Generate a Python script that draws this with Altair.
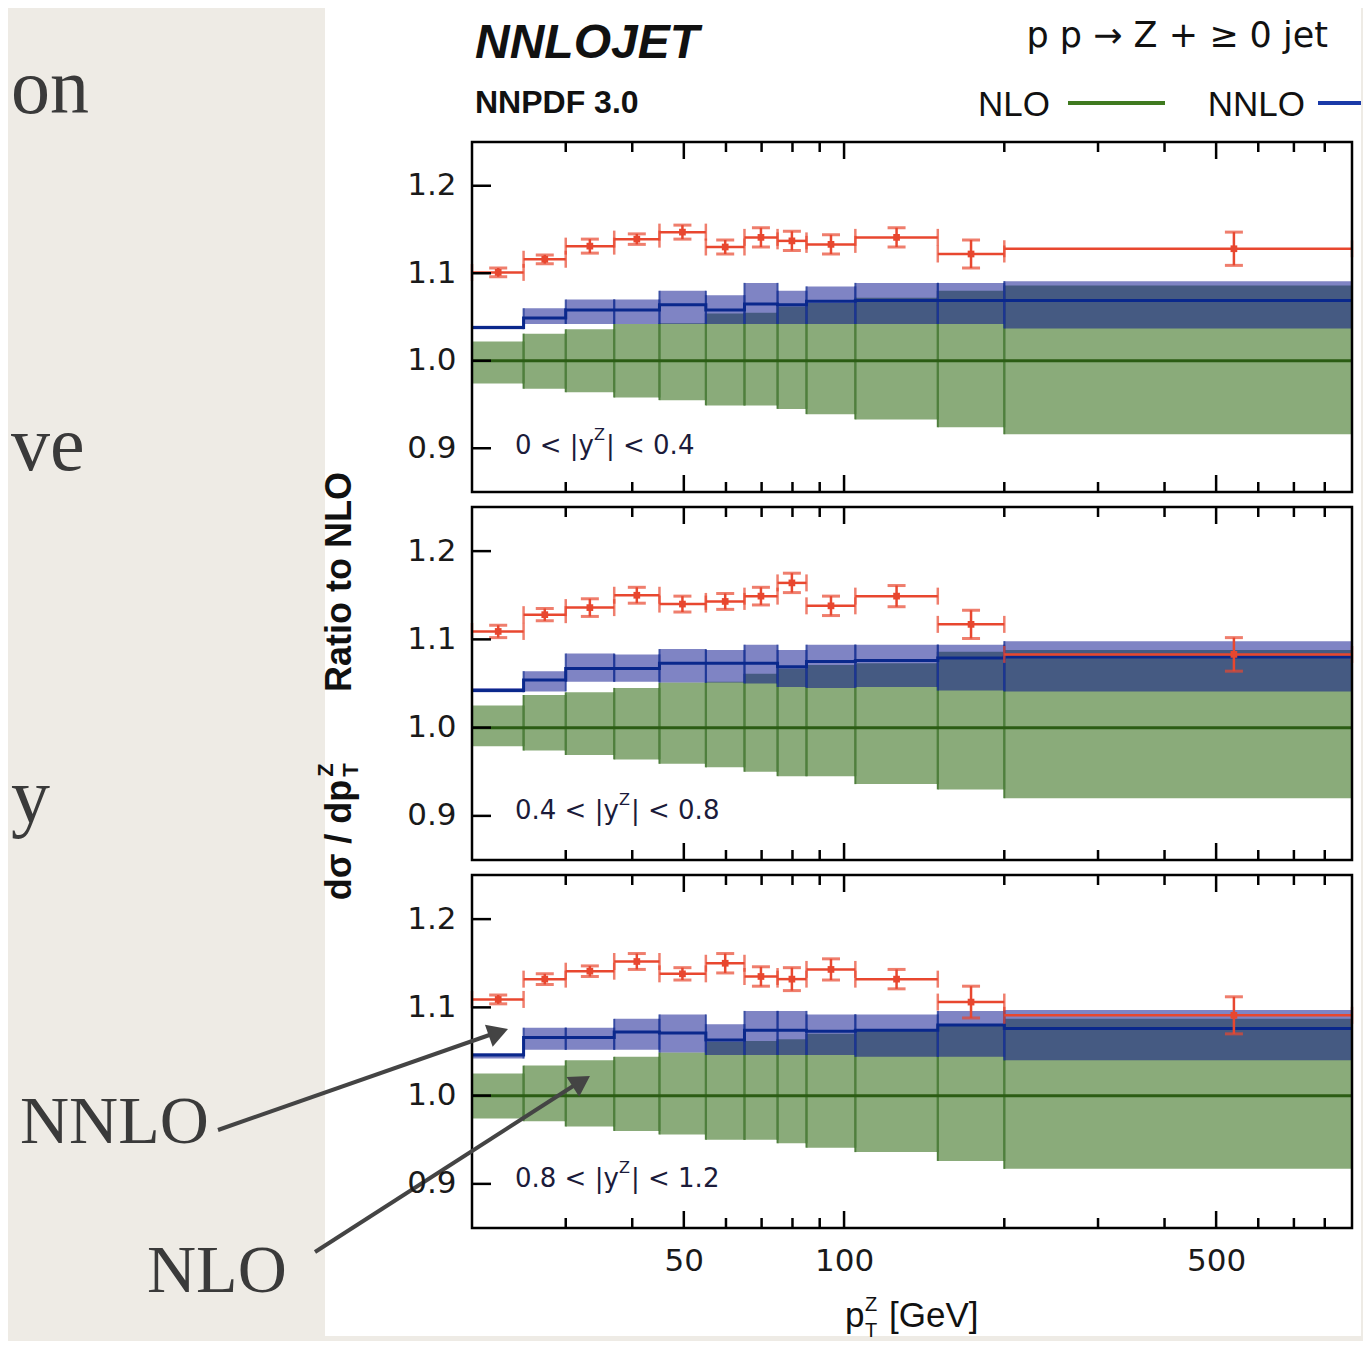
import altair as alt
import pandas as pd

# ---------------- data ----------------
edges = [20, 25, 30, 37, 45, 55, 65, 75, 85, 105, 150, 200, 900]
marker_pt = [22.4, 27.4, 33.3, 40.8, 49.7, 59.8, 69.8, 79.8, 94.5, 125.5, 173.2, 540]
x_major = [50, 100, 500]
x_minor = [30, 40, 60, 70, 80, 90, 200, 300, 400, 600, 700, 800]
y_ticks = [0.9, 1.0, 1.1, 1.2]
rap_lo = ["0", "0.4", "0.8"]
rap_hi = ["0.4", "0.8", "1.2"]

data_1 = [1.101, 1.116, 1.131, 1.139, 1.147, 1.130, 1.141, 1.137, 1.133, 1.141, 1.122, 1.128]
err_1 = [0.005, 0.005, 0.008, 0.006, 0.008, 0.008, 0.011, 0.011, 0.011, 0.011, 0.016, 0.019]
nnlo_1 = [1.038, 1.049, 1.058, 1.058, 1.064, 1.058, 1.065, 1.064, 1.068, 1.069, 1.069, 1.069]
nnlo_hi_1 = [1.040, 1.060, 1.070, 1.070, 1.080, 1.075, 1.089, 1.080, 1.085, 1.089, 1.089, 1.091]
nnlo_lo_1 = [1.036, 1.042, 1.042, 1.042, 1.042, 1.042, 1.042, 1.042, 1.042, 1.042, 1.042, 1.037]
nlo_hi_1 = [1.022, 1.031, 1.036, 1.042, 1.043, 1.054, 1.055, 1.062, 1.066, 1.072, 1.080, 1.086]
nlo_lo_1 = [0.974, 0.968, 0.964, 0.958, 0.955, 0.949, 0.949, 0.945, 0.939, 0.933, 0.924, 0.916]

data_2 = [1.109, 1.128, 1.136, 1.150, 1.140, 1.143, 1.149, 1.164, 1.138, 1.149, 1.117, 1.083]
err_2 = [0.007, 0.007, 0.010, 0.009, 0.009, 0.009, 0.010, 0.011, 0.011, 0.012, 0.016, 0.019]
nnlo_2 = [1.042, 1.054, 1.067, 1.067, 1.073, 1.073, 1.073, 1.069, 1.075, 1.076, 1.079, 1.080]
nnlo_hi_2 = [1.045, 1.064, 1.084, 1.083, 1.089, 1.088, 1.094, 1.088, 1.094, 1.094, 1.094, 1.098]
nnlo_lo_2 = [1.040, 1.041, 1.052, 1.052, 1.051, 1.051, 1.050, 1.046, 1.045, 1.046, 1.042, 1.041]
nlo_hi_2 = [1.025, 1.037, 1.040, 1.045, 1.051, 1.052, 1.061, 1.067, 1.071, 1.073, 1.086, 1.088]
nlo_lo_2 = [0.979, 0.974, 0.969, 0.964, 0.959, 0.955, 0.950, 0.945, 0.945, 0.936, 0.930, 0.920]

data_3 = [1.109, 1.132, 1.141, 1.152, 1.138, 1.150, 1.135, 1.132, 1.143, 1.132, 1.106, 1.091]
err_3 = [0.005, 0.006, 0.006, 0.009, 0.007, 0.011, 0.011, 0.013, 0.012, 0.011, 0.018, 0.021]
nnlo_3 = [1.046, 1.066, 1.066, 1.072, 1.071, 1.063, 1.074, 1.074, 1.073, 1.074, 1.080, 1.076]
nnlo_hi_3 = [1.048, 1.077, 1.077, 1.087, 1.092, 1.081, 1.096, 1.096, 1.092, 1.092, 1.096, 1.097]
nnlo_lo_3 = [1.042, 1.052, 1.052, 1.052, 1.049, 1.046, 1.046, 1.046, 1.046, 1.044, 1.044, 1.040]
nlo_hi_3 = [1.025, 1.034, 1.040, 1.044, 1.049, 1.061, 1.062, 1.064, 1.070, 1.074, 1.080, 1.087]
nlo_lo_3 = [0.974, 0.971, 0.965, 0.960, 0.956, 0.950, 0.950, 0.946, 0.941, 0.936, 0.926, 0.917]

DATA = [data_1, data_2, data_3]
ERR = [err_1, err_2, err_3]
NNLO = [nnlo_1, nnlo_2, nnlo_3]
NNLO_HI = [nnlo_hi_1, nnlo_hi_2, nnlo_hi_3]
NNLO_LO = [nnlo_lo_1, nnlo_lo_2, nnlo_lo_3]
NLO_HI = [nlo_hi_1, nlo_hi_2, nlo_hi_3]
NLO_LO = [nlo_lo_1, nlo_lo_2, nlo_lo_3]

# ---------------- style ----------------
BEIGE = "#eeebe5"
GREEN_BAND = "#8aab7a"
GREEN_EDGE = "#4f7f3d"
GREEN_LINE = "#2b5c14"
BLUE_BAND = "#00098a"
BLUE_EDGE = "#1c3596"
BLUE_LINE = "#0a288c"
RED = "#e8472f"
SLIDE_TXT = "#3a3a3a"
W = 880
HEIGHTS = [350, 353, 353]

XS = alt.Scale(type="log", domain=[20, 900], nice=False)
YS = alt.Scale(domain=[0.85, 1.25], nice=False, zero=False)

one = pd.DataFrame({"a": [0]})


def txt(text, x, y, size, color="#111111", font="Liberation Sans", align="left",
        baseline="alphabetic", weight="normal", style="normal", angle=0):
    kw = dict(text=text, align=align, baseline=baseline, fontSize=size, font=font,
              color=color, fontWeight=weight, fontStyle=style)
    if angle:
        kw["angle"] = angle
    return alt.Chart(one).mark_text(**kw).encode(x=alt.value(x), y=alt.value(y))


def make_panel(k, h, show_x):
    XA = None
    if show_x:
        XA = alt.Axis(values=x_major, format="d", ticks=False, domain=False, grid=False,
                      labelPadding=18, labelFontSize=31, labelFont="DejaVu Sans",
                      labelColor="#1a1a1a", title=None, zindex=1, labelOverlap=False,
                      labelFlush=False)
    YA = alt.Axis(values=y_ticks, format=".1f", ticks=False, domain=False, grid=False,
                  labelPadding=16, labelFontSize=31, labelFont="DejaVu Sans",
                  labelColor="#1a1a1a", title=None, zindex=1)

    def X(f):
        return alt.X(f, type="quantitative", scale=XS, axis=XA)

    def Y(f):
        return alt.Y(f, type="quantitative", scale=YS, axis=YA)

    df = pd.DataFrame({
        "x0": edges[:-1], "x1": edges[1:], "xc": marker_pt,
        "d": DATA[k], "e": ERR[k],
        "nn": NNLO[k], "nn_lo": NNLO_LO[k], "nn_hi": NNLO_HI[k],
        "nl_lo": NLO_LO[k], "nl_hi": NLO_HI[k],
    })
    df["d_lo"] = df["d"] - df["e"]
    df["d_hi"] = df["d"] + df["e"]
    step = pd.DataFrame({"x": edges, "y": NNLO[k] + [NNLO[k][-1]]})
    ref = pd.DataFrame({"x0": [edges[0]], "x1": [edges[-1]], "y": [1.0],
                        "ylo": [0.85], "yhi": [1.25]})
    yt = pd.DataFrame({"v": y_ticks})
    xmaj = pd.DataFrame({"v": x_major})
    xmin = pd.DataFrame({"v": x_minor})

    base = alt.Chart(df)
    layers = []

    if k == 0:
        # slide background and fragments of slide text (decoration)
        layers.append(alt.Chart(one).mark_rect(color=BEIGE).encode(
            x=alt.value(-464), x2=alt.value(889), y=alt.value(-134), y2=alt.value(1194)))
        layers.append(alt.Chart(one).mark_rect(color="#ffffff").encode(
            x=alt.value(-147), x2=alt.value(889), y=alt.value(-134), y2=alt.value(1194)))
        layers.append(txt("on", -461, -29, 78, SLIDE_TXT, "Liberation Serif"))
        layers.append(txt("ve", -461, 328, 78, SLIDE_TXT, "Liberation Serif"))
        layers.append(txt("y", -461, 680, 78, SLIDE_TXT, "Liberation Serif"))
        # header
        layers.append(txt("NNLOJET", 3, -84, 48, "#111111", weight="bold", style="italic"))
        layers.append(txt("NNPDF 3.0", 3, -29, 32, "#111111", weight="bold"))
        layers.append(txt("p p \u2192 Z + \u2265 0 jet", 856, -95, 35, "#111111",
                          font="DejaVu Sans", align="right"))
        layers.append(txt("NLO", 578, -26, 35, "#111111", align="right"))
        layers.append(alt.Chart(one).mark_rule(color="#3f7a1f", strokeWidth=4).encode(
            x=alt.value(596), x2=alt.value(693), y=alt.value(-39)))
        layers.append(txt("NNLO", 833, -26, 35, "#111111", align="right"))
        layers.append(alt.Chart(one).mark_rule(color="#1a3aa8", strokeWidth=4).encode(
            x=alt.value(846), x2=alt.value(889), y=alt.value(-39)))
        # y title
        layers.append(txt("Ratio to NLO", -132, 440, 36, "#111111", align="center",
                          baseline="middle", weight="bold", angle=270))
        layers.append(txt("d\u03c3 / dp", -132, 698, 36, "#111111", align="center",
                          baseline="middle", weight="bold", angle=270))
        layers.append(txt("T", -121, 628, 22, "#111111", align="center",
                          baseline="middle", weight="bold", angle=270))
        layers.append(txt("Z", -146, 628, 22, "#111111", align="center",
                          baseline="middle", weight="bold", angle=270))

    # NLO band
    layers.append(base.mark_rect(color=GREEN_BAND).encode(
        x=X("x0"), x2="x1", y=Y("nl_lo"), y2="nl_hi"))
    layers.append(base.mark_rule(color=GREEN_EDGE, strokeWidth=2).encode(
        x=X("x0"), y=Y("nl_lo"), y2="nl_hi"))
    layers.append(base.mark_rule(color=GREEN_EDGE, strokeWidth=2).encode(
        x=X("x1"), y=Y("nl_lo"), y2="nl_hi"))
    layers.append(alt.Chart(ref).mark_rule(color=GREEN_LINE, strokeWidth=3).encode(
        x=X("x0"), x2="x1", y=Y("y")))
    # NNLO band
    layers.append(base.mark_rect(color=BLUE_BAND, opacity=0.5).encode(
        x=X("x0"), x2="x1", y=Y("nn_lo"), y2="nn_hi"))
    layers.append(base.mark_rule(color=BLUE_EDGE, strokeWidth=2, opacity=0.8).encode(
        x=X("x0"), y=Y("nn_lo"), y2="nn_hi"))
    layers.append(base.mark_rule(color=BLUE_EDGE, strokeWidth=2, opacity=0.8).encode(
        x=X("x1"), y=Y("nn_lo"), y2="nn_hi"))
    layers.append(alt.Chart(step).mark_line(color=BLUE_LINE, strokeWidth=3,
                                            interpolate="step-after").encode(
        x=X("x"), y=Y("y")))
    # data
    layers.append(base.mark_rule(color=RED, strokeWidth=2.5).encode(
        x=X("x0"), x2="x1", y=Y("d")))
    layers.append(base.mark_tick(color=RED, orient="vertical", size=17, thickness=2.5).encode(
        x=X("x0"), y=Y("d")))
    layers.append(base.mark_tick(color=RED, orient="vertical", size=17, thickness=2.5).encode(
        x=X("x1"), y=Y("d")))
    layers.append(base.mark_rule(color=RED, strokeWidth=2.5).encode(
        x=X("xc"), y=Y("d_lo"), y2="d_hi"))
    layers.append(base.mark_tick(color=RED, orient="horizontal", size=18, thickness=3).encode(
        x=X("xc"), y=Y("d_lo")))
    layers.append(base.mark_tick(color=RED, orient="horizontal", size=18, thickness=3).encode(
        x=X("xc"), y=Y("d_hi")))
    layers.append(base.mark_square(color=RED, size=45, opacity=1).encode(
        x=X("xc"), y=Y("d")))

    # frame and inward ticks
    layers.append(alt.Chart(ref).mark_rect(filled=False, stroke="#000000", strokeWidth=2.5).encode(
        x=X("x0"), x2="x1", y=Y("ylo"), y2="yhi"))
    layers.append(alt.Chart(yt).mark_rule(color="#000000", strokeWidth=2.5).encode(
        y=Y("v"), x=alt.value(0), x2=alt.value(19)))
    layers.append(alt.Chart(xmaj).mark_rule(color="#000000", strokeWidth=2.5).encode(
        x=X("v"), y=alt.value(h), y2=alt.value(h - 17)))
    layers.append(alt.Chart(xmaj).mark_rule(color="#000000", strokeWidth=2.5).encode(
        x=X("v"), y=alt.value(0), y2=alt.value(17)))
    layers.append(alt.Chart(xmin).mark_rule(color="#000000", strokeWidth=2.5).encode(
        x=X("v"), y=alt.value(h), y2=alt.value(h - 10)))
    layers.append(alt.Chart(xmin).mark_rule(color="#000000", strokeWidth=2.5).encode(
        x=X("v"), y=alt.value(0), y2=alt.value(10)))

    # rapidity label
    lab_c = "#1b1b3a"
    first = rap_lo[k] + " < |y"
    off = 79 if k == 0 else 104
    layers.append(txt(first, 43, 312, 26, lab_c, "DejaVu Sans"))
    layers.append(txt("Z", 43 + off, 298, 16, lab_c, "DejaVu Sans"))
    layers.append(txt("| < " + rap_hi[k], 43 + off + 12, 312, 26, lab_c, "DejaVu Sans"))

    if show_x:
        # x title
        layers.append(txt("p", 373, 452, 35, "#111111"))
        layers.append(txt("Z", 393, 436, 20, "#111111"))
        layers.append(txt("T", 393, 462, 20, "#111111"))
        layers.append(txt("[GeV]", 417, 452, 35, "#111111"))
        # annotation arrows and labels (slide decoration)
        layers.append(txt("NNLO", -452, 268, 68, SLIDE_TXT, "Liberation Serif"))
        layers.append(txt("NLO", -325, 417, 68, SLIDE_TXT, "Liberation Serif"))
        layers.append(alt.Chart(one).mark_rule(color="#444444", strokeWidth=4).encode(
            x=alt.value(-254), y=alt.value(255), x2=alt.value(26), y2=alt.value(157)))
        layers.append(alt.Chart(one).mark_point(shape="triangle-up", size=550, filled=True,
                                                color="#444444", opacity=1, angle=70.8).encode(
            x=alt.value(26.4), y=alt.value(157.4)))
        layers.append(alt.Chart(one).mark_rule(color="#444444", strokeWidth=4).encode(
            x=alt.value(-157), y=alt.value(377), x2=alt.value(109), y2=alt.value(206)))
        layers.append(alt.Chart(one).mark_point(shape="triangle-up", size=550, filled=True,
                                                color="#444444", opacity=1, angle=57.4).encode(
            x=alt.value(109.4), y=alt.value(206.5)))

    return alt.layer(*layers).properties(width=W, height=h)


panels = [make_panel(i, HEIGHTS[i], i == 2) for i in range(3)]

chart = alt.vconcat(*panels, spacing=15, bounds="flush").resolve_scale(
    x="independent", y="independent"
).properties(
    padding={"left": 0, "top": 0, "right": 0, "bottom": 0}
).configure(background=BEIGE).configure_view(strokeWidth=0)

chart.save("out.html", embed_options={"renderer": "svg", "actions": False})
